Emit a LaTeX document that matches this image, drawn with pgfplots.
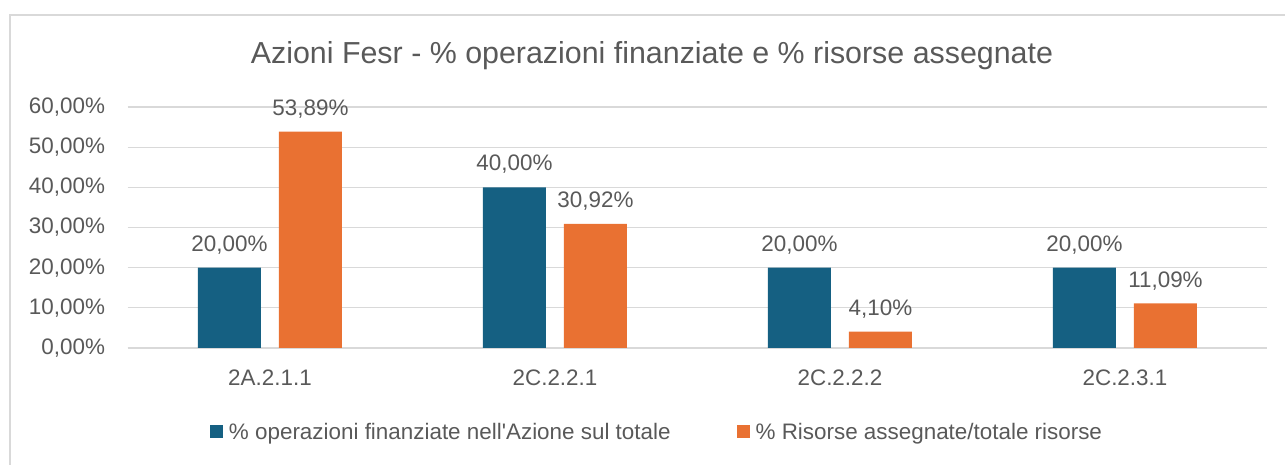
\documentclass[border=0pt]{standalone}
\usepackage{pgfplots}
\pgfplotsset{compat=1.18}
\usepackage{fontspec}
\setmainfont{Liberation Sans}
\definecolor{cblue}{HTML}{156082}
\definecolor{corange}{HTML}{E97132}
\definecolor{ctext}{HTML}{595959}
\definecolor{cgrid}{HTML}{D9D9D9}
\begin{document}
\begin{tikzpicture}[x=1bp,y=1bp]
\useasboundingbox (0,0) rectangle (1285,465);
\begin{scope}
\clip (0,0) rectangle (1285,465);
\draw[cgrid, line width=1.2bp] (10,-5) -- (10,450) -- (1295,450);
\end{scope}
\node[ctext, font=\fontsize{30.5}{36}\selectfont] at (652,409) {Azioni Fesr - \% operazioni finanziate e \% risorse assegnate};
\begin{axis}[
  at={(127.5bp,117bp)}, anchor=south west,
  scale only axis, width=1140bp, height=241bp,
  ybar=18bp, bar width=63bp,
  xmin=-0.5, xmax=3.5, ymin=0, ymax=60,
  xtick={0,1,2,3},
  xticklabels={2A.2.1.1,2C.2.2.1,2C.2.2.2,2C.2.3.1},
  ytick={0,10,20,30,40,50,60},
  /pgf/number format/assume math mode=true,
  yticklabel={\pgfmathprintnumber[fixed,fixed zerofill,precision=2,use comma]{\tick}\%},
  axis line style={draw=none},
  major tick length=0pt,
  ymajorgrids, grid style={cgrid, line width=1.2bp},
  tick label style={ctext, font=\fontsize{22.5}{26}\selectfont},
  yticklabel style={anchor=east, xshift=-19bp},
  xticklabel style={anchor=north, yshift=-18bp},
  nodes near coords={\pgfmathprintnumber[fixed,fixed zerofill,precision=2,use comma]{\pgfplotspointmeta}\%},
  every node near coord/.append style={ctext, font=\fontsize{22.5}{26}\selectfont, anchor=south, yshift=10bp},
  legend columns=2,
  legend style={at={(axis description cs:0.4645,-0.3485)}, anchor=center, draw=none, fill=none,
    font=\fontsize{22.5}{26}\selectfont, text=ctext,
    /tikz/every even column/.append style={column sep=64bp}, inner sep=0pt},
  legend image code/.code={\fill[#1] (0bp,-6.5bp) rectangle (13bp,6.5bp); \path (17bp,0);},
  clip=false,
]
\draw[cgrid, line width=1.2bp] (axis cs:-0.5,0) -- (axis cs:3.5,0);
\addplot[fill=cblue, draw=none] coordinates {(0,20) (1,40) (2,20) (3,20)};
\addplot[fill=corange, draw=none] coordinates {(0,53.89) (1,30.92) (2,4.10) (3,11.09)};
\legend{\% operazioni finanziate nell\textquotesingle Azione sul totale, \% Risorse assegnate/totale risorse}
\end{axis}
\end{tikzpicture}
\end{document}
